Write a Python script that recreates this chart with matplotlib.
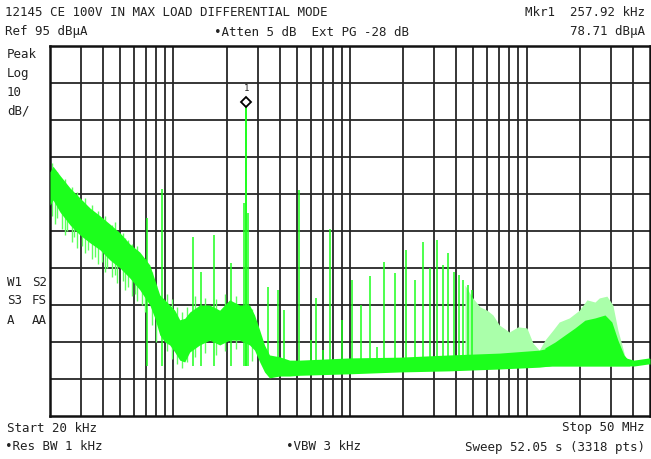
import numpy as np
import matplotlib
matplotlib.use('Agg')
import matplotlib.pyplot as plt
from matplotlib import transforms

# ---- data (freq in kHz, level in dBuA) ----
band_f = [20.0, 20.8, 22.8, 26.0, 29.6, 33.7, 38.4, 43.6, 49.8, 56.6, 64.5, 73.5,
          78.4, 83.7, 89.3, 95.3, 101.7, 108.6, 115.9, 123.7, 140.9, 160.5, 182.8,
          208, 237, 270, 288, 308, 328, 350, 399, 455, 518, 994, 1906, 3655, 7010,
          11800, 13450, 15320, 20000, 30000, 33470, 36500, 40500, 49500, 50000]
band_hi = [61.0, 62.5, 60.0, 56.6, 53.9, 51.2, 49.1, 46.9, 44.5, 41.5, 39.3, 35.8,
           31.8, 27.7, 26.4, 25.0, 23.6, 21.0, 21.4, 23.1, 25.0, 25.0, 23.6,
           26.4, 25.0, 25.0, 22.3, 18.2, 14.2, 11.5, 11.0, 10.1, 10.1, 10.7, 10.9, 11.5, 12.0,
           12.8, 13.4, 14.0, 14.0, 14.0, 12.0, 10.7, 10.1, 10.7, 10.5]
band_lo = [52.0, 53.4, 50.1, 46.6, 43.9, 41.8, 39.9, 37.2, 35.0, 32.3, 29.1, 25.0,
           21.5, 16.9, 15.0, 14.2, 12.3, 10.1, 9.6, 12.3, 14.2, 15.5, 14.2,
           15.5, 15.5, 14.2, 12.8, 9.6, 6.9, 5.3, 5.8, 5.8, 6.0, 6.4, 6.9, 7.2, 7.7,
           8.2, 8.5, 9.1, 9.5, 9.8, 9.6, 8.8, 8.5, 9.1, 9.0]

# noise grass around the low-frequency band (top, bottom of each stroke)
grass_f = [20.5, 21.3, 22.0, 23.4, 24.2, 25.1, 26.7, 27.5, 28.6, 30.5, 31.6, 32.8,
           34.7, 36.0, 37.2, 39.6, 41.0, 42.3, 45.0, 46.7, 48.2, 51.5, 53.4, 55.0,
           58.5, 60.7, 62.5, 66.8, 69.0, 75.8, 80.0, 92.0, 98.0, 105, 112, 120,
           133, 150, 175, 195, 225, 280]
grass_top = [63.5, 61.5, 61.0, 58.0, 59.0, 56.5, 57.0, 55.0, 55.5, 53.0, 54.0, 51.5,
             52.0, 50.0, 50.5, 48.5, 49.0, 47.0, 46.5, 47.5, 45.0, 44.5, 43.0, 42.5,
             41.5, 40.0, 41.0, 38.0, 37.5, 34.0, 30.5, 28.0, 26.5, 24.5, 23.0, 24.5,
             27.5, 27.0, 26.5, 28.0, 27.5, 24.0]
grass_bot = [49.0, 47.0, 48.5, 45.5, 44.0, 45.0, 42.0, 43.5, 40.5, 41.0, 39.0, 40.0,
             37.5, 38.0, 36.0, 36.5, 34.0, 35.0, 32.5, 33.0, 31.0, 31.5, 29.0, 30.0,
             27.5, 28.0, 26.0, 25.0, 23.0, 19.5, 15.0, 12.5, 10.5, 9.0, 8.0, 9.5,
             11.0, 12.0, 11.5, 12.5, 13.0, 10.0]

# discrete spurs / harmonics
spur_f = [70.8, 86.1, 129.0, 143.2, 169.7, 211.8, 250, 265, 343, 391, 423, 515.8,
          601, 642, 703, 774, 902, 1032, 1161, 1290, 1419, 1548, 1805, 2063, 2321,
          2579, 2837, 3095, 3353, 3611, 3869, 4127, 4385, 4643, 4900]
spur_db = [48.5, 56.4, 43.4, 33.9, 43.9, 36.4, 52.5, 50.0, 29.9, 29.1, 23.6, 56.1,
           15.5, 26.9, 12.8, 45.5, 21.0, 31.8, 25.0, 32.8, 13.6, 36.6, 33.6, 39.9, 31.8,
           42.0, 35.0, 42.6, 35.8, 39.1, 33.9, 33.1, 31.8, 30.4, 29.1]

# dense high harmonic haze, 4.5 - 12 MHz
haze_f = [4478, 4904, 5444, 5966, 6449, 7010, 7986, 8936, 10046, 10866, 11800]
haze_db = [30.4, 27.2, 24.5, 23.6, 22.3, 19.6, 17.7, 19.1, 18.8, 14.7, 12.8]

# broadband hump 12 - 40 MHz
hump_f = [11800, 12700, 14100, 15300, 17450, 19900, 21970, 24400, 25800, 28500,
          30800, 32900, 34700, 36500, 39500]
hump_light = [12.8, 15.5, 18.2, 20.4, 21.5, 23.6, 26.4, 25.8, 26.9, 27.4,
              25.0, 18.2, 14.2, 10.1, 9.3]
hump_core_f = [12700, 14500, 16500, 18800, 21400, 24400, 27800, 30400, 32900, 35600, 38500]
hump_core = [13.4, 15.0, 16.9, 18.8, 20.9, 21.5, 22.3, 20.4, 15.5, 11.5, 9.6]

mkr_f, mkr_db = 257.92, 78.71

GREEN = '#1cff1c'; MID = '#5cff5c'; LIGHT = '#aaffaa'; TXT = '#222222'

fig = plt.figure(figsize=(6.51, 4.59), dpi=100)
ax = fig.add_axes([50/651, 1-416/459, 600/651, 370/459])
ax.set_xscale('log')
ax.set_xlim(20e3, 50e6); ax.set_ylim(-5, 95)

k = 1e3
ax.fill_between(np.array(haze_f)*k, 8.5, haze_db, color=LIGHT, lw=0, zorder=2)
ax.fill_between(np.array(hump_f)*k, 8.5, hump_light, color=LIGHT, lw=0, zorder=2)
ax.fill_between(np.array(hump_core_f)*k, 8.5, hump_core, color=GREEN, lw=0, zorder=3)
ax.vlines(np.array(grass_f)*k, grass_bot, grass_top, color=MID, lw=1.0, zorder=2)
ax.fill_between(np.array(band_f)*k, band_lo, band_hi, color=GREEN, lw=0, zorder=3)
ax.vlines(np.array(spur_f)*k, 8.5, spur_db, color=GREEN, lw=1.1, zorder=3)
ax.vlines(mkr_f*k, 8.5, mkr_db, color=GREEN, lw=1.4, zorder=3)

off = transforms.offset_copy(ax.transData, fig=fig, y=4, units='dots')
ax.plot(mkr_f*k, mkr_db, marker='D', ms=5, mfc='white', mec='black', mew=1.3,
        transform=off, zorder=5)
ax.annotate('1', (mkr_f*k, mkr_db), xytext=(0, 13), textcoords='offset points',
            ha='center', va='center', fontsize=6.5, family='DejaVu Sans Mono', color=TXT)

# graticule
vx = [m*10**d for d in (4, 5, 6, 7) for m in range(1, 10) if 20e3 < m*10**d < 50e6]
ax.set_xticks(vx, minor=False); ax.set_xticks([], minor=True)
ax.set_yticks(np.arange(5, 95, 10))
ax.grid(True, color='#262626', lw=1.3, zorder=1)
ax.set_axisbelow(True)
ax.tick_params(which='both', length=0, labelbottom=False, labelleft=False)
for s in ax.spines.values():
    s.set_linewidth(1.8); s.set_color('#111111')

def put(x, y, s, ha='left'):
    fig.text(x/651, 1-y/459, s, ha=ha, va='center', fontsize=9,
             family='DejaVu Sans Mono', color=TXT, zorder=10)

put(5, 13, '12145 CE 100V IN MAX LOAD DIFFERENTIAL MODE')
put(645, 13, 'Mkr1  257.92 kHz', ha='right')
put(5, 32, 'Ref 95 dBµA')
put(214, 32, '•Atten 5 dB  Ext PG -28 dB')
put(645, 32, '78.71 dBµA', ha='right')
for i, s in enumerate(['Peak', 'Log', '10', 'dB/']):
    put(7, 54 + 19*i, s)
for i, (a, b) in enumerate([('W1', 'S2'), ('S3', 'FS'), ('A', 'AA')]):
    put(7, 282 + 19*i, a)
    put(32, 282 + 19*i, b)
put(7, 428, 'Start 20 kHz')
put(5, 447, '•Res BW 1 kHz')
put(286, 447, '•VBW 3 kHz')
put(645, 428, 'Stop 50 MHz', ha='right')
put(645, 447, 'Sweep 52.05 s (3318 pts)', ha='right')

fig.savefig('out.png', dpi=100)
